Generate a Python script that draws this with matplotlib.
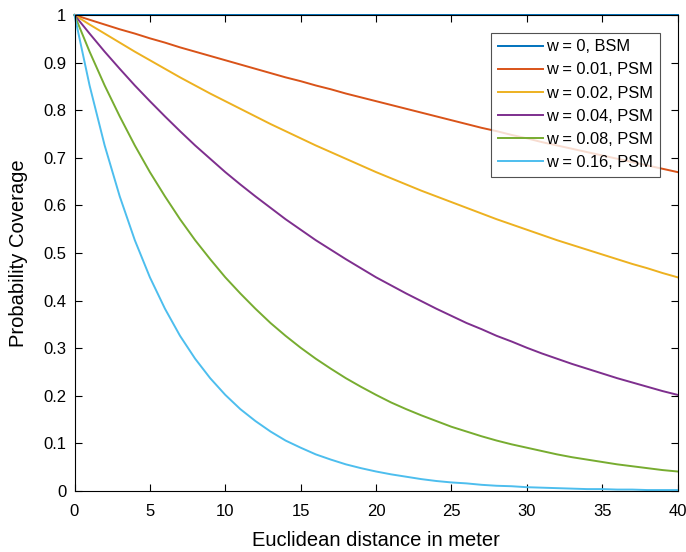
import matplotlib.pyplot as plt
import numpy as np

plt.rcParams['font.family'] = ['Liberation Sans', 'DejaVu Sans']

# distance in meters
dist = np.arange(0, 41)

# coverage probability per weight
p_w000 = [1.0] * 41
p_w001 = [1.000, 0.990, 0.980, 0.970, 0.961, 0.951, 0.942, 0.932, 0.923, 0.914,
          0.905, 0.896, 0.887, 0.878, 0.869, 0.861, 0.852, 0.844, 0.835, 0.827,
          0.819, 0.811, 0.803, 0.795, 0.787, 0.779, 0.771, 0.763, 0.756, 0.748,
          0.741, 0.733, 0.726, 0.719, 0.712, 0.705, 0.698, 0.691, 0.684, 0.677,
          0.670]
p_w002 = [1.000, 0.980, 0.961, 0.942, 0.923, 0.905, 0.887, 0.869, 0.852, 0.835,
          0.819, 0.803, 0.787, 0.771, 0.756, 0.741, 0.726, 0.712, 0.698, 0.684,
          0.670, 0.657, 0.644, 0.631, 0.619, 0.607, 0.595, 0.583, 0.571, 0.560,
          0.549, 0.538, 0.527, 0.517, 0.507, 0.497, 0.487, 0.477, 0.468, 0.458,
          0.449]
p_w004 = [1.000, 0.961, 0.923, 0.887, 0.852, 0.819, 0.787, 0.756, 0.726, 0.698,
          0.670, 0.644, 0.619, 0.595, 0.571, 0.549, 0.527, 0.507, 0.487, 0.468,
          0.449, 0.432, 0.415, 0.399, 0.383, 0.368, 0.353, 0.340, 0.326, 0.314,
          0.301, 0.289, 0.278, 0.267, 0.257, 0.247, 0.237, 0.228, 0.219, 0.210,
          0.202]
p_w008 = [1.000, 0.923, 0.852, 0.787, 0.726, 0.670, 0.619, 0.571, 0.527, 0.487,
          0.449, 0.415, 0.383, 0.353, 0.326, 0.301, 0.278, 0.257, 0.237, 0.219,
          0.202, 0.186, 0.172, 0.159, 0.147, 0.135, 0.125, 0.115, 0.106, 0.098,
          0.091, 0.084, 0.077, 0.071, 0.066, 0.061, 0.056, 0.052, 0.048, 0.044,
          0.041]
p_w016 = [1.000, 0.852, 0.726, 0.619, 0.527, 0.449, 0.383, 0.326, 0.278, 0.237,
          0.202, 0.172, 0.147, 0.125, 0.106, 0.091, 0.077, 0.066, 0.056, 0.048,
          0.041, 0.035, 0.030, 0.025, 0.021, 0.018, 0.016, 0.013, 0.011, 0.010,
          0.008, 0.007, 0.006, 0.005, 0.004, 0.004, 0.003, 0.003, 0.002, 0.002,
          0.002]

labels = ['w = 0, BSM', 'w = 0.01, PSM', 'w = 0.02, PSM',
          'w = 0.04, PSM', 'w = 0.08, PSM', 'w = 0.16, PSM']
series = [p_w000, p_w001, p_w002, p_w004, p_w008, p_w016]
colors = ['#0072BD', '#D95319', '#EDB120', '#7E2F8E', '#77AC30', '#4DBEEE']

fig = plt.figure(figsize=(6.86, 5.52), dpi=100)
ax = fig.add_axes([74.5 / 686, 1 - 491 / 552, (677.5 - 74.5) / 686, (491 - 15) / 552])

for y, c, lab in zip(series, colors, labels):
    ax.plot(dist, y, color=c, linewidth=1.4, label=lab, clip_on=False)

ax.set_xlim(0, 40)
ax.set_ylim(0, 1)
ax.set_xticks(np.arange(0, 41, 5))
ax.set_yticks(np.arange(0, 1.01, 0.1))
ax.set_yticklabels(['0', '0.1', '0.2', '0.3', '0.4', '0.5', '0.6', '0.7', '0.8', '0.9', '1'])
ax.tick_params(direction='in', length=5, width=0.8, labelsize=12, top=True, right=True,
               labeltop=False, labelright=False)
ax.tick_params(axis='x', pad=9)
ax.tick_params(axis='y', pad=6)
for s in ax.spines.values():
    s.set_linewidth(0.8)

ax.set_xlabel('Euclidean distance in meter', fontsize=14.5, labelpad=9)
ax.set_ylabel('Probability Coverage', fontsize=14.5, labelpad=11)

leg = ax.legend(loc='upper right', bbox_to_anchor=(660 / 686, 1 - 32.7 / 552),
                bbox_transform=fig.transFigure, fontsize=11.8, frameon=True,
                fancybox=False, handlelength=2.75, handletextpad=0.22,
                borderpad=0.4, labelspacing=0.5, borderaxespad=0)
leg.get_frame().set_edgecolor('#262626')
leg.get_frame().set_linewidth(0.8)

fig.savefig('out.png', dpi=100)
